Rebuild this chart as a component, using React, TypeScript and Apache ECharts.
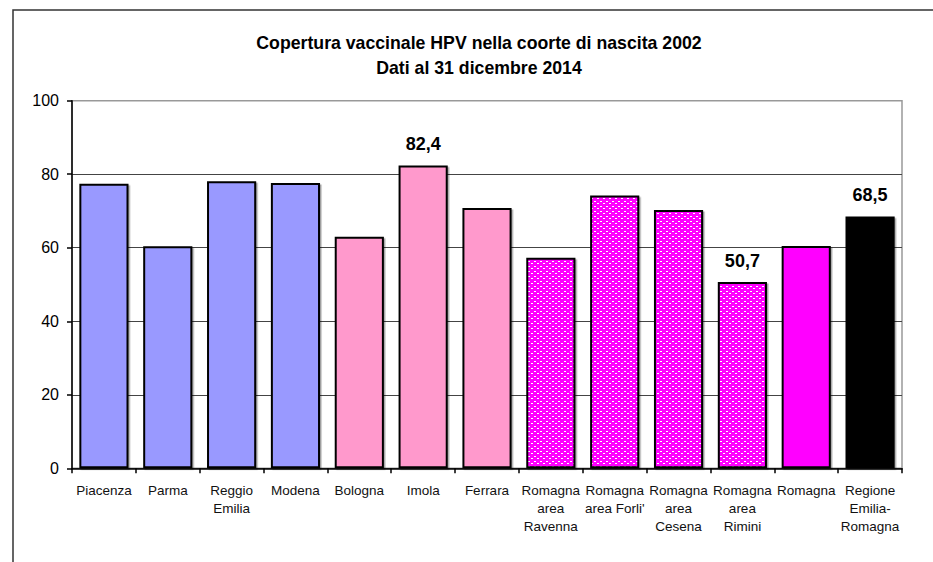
import React, { useEffect, useRef } from "react";
import * as echarts from "echarts";

const categories = [
  "Piacenza",
  "Parma",
  "Reggio\nEmilia",
  "Modena",
  "Bologna",
  "Imola",
  "Ferrara",
  "Romagna\narea\nRavenna",
  "Romagna\narea Forli'",
  "Romagna\narea\nCesena",
  "Romagna\narea\nRimini",
  "Romagna",
  "Regione\nEmilia-\nRomagna",
];
const values = [77.4, 60.4, 78.1, 77.6, 63.0, 82.4, 70.8, 57.3, 74.2, 70.3, 50.7, 60.5, 68.5];
// fill kind per bar: "blue" | "pink" | "dots" | "magenta" | "black"
const kinds = ["blue", "blue", "blue", "blue", "pink", "pink", "pink", "dots", "dots", "dots", "dots", "magenta", "black"];
const labelled = [false, false, false, false, false, true, false, false, false, false, true, false, true];
const yTicks = [0, 20, 40, 60, 80, 100];

function makeDots(): string {
  const c = document.createElement("canvas");
  c.width = 6;
  c.height = 5;
  const ctx = c.getContext("2d")!;
  ctx.fillStyle = "#FF00FF";
  ctx.fillRect(0, 0, 6, 5);
  ctx.fillStyle = "#FFFFFF";
  ctx.fillRect(0, 1, 2, 1);
  ctx.fillRect(3, 3, 2, 1);
  return c.toDataURL();
}

export default function App() {
  const ref = useRef<HTMLDivElement>(null);
  useEffect(() => {
    if (!ref.current) return;
    const chart = echarts.init(ref.current, null, { renderer: "svg" });
    const dots = makeDots();
    const fills: Record<string, any> = {
      blue: "#9999FF",
      pink: "#FF99CC",
      dots: { image: dots, repeat: "repeat" },
      magenta: "#FF00FF",
      black: "#000000",
    };
    const data = values.map((v, i) => ({
      value: v,
      itemStyle: { color: fills[kinds[i]] },
      label: {
        show: labelled[i],
        position: "top",
        distance: 12,
        formatter: () => String(v).replace(".", ","),
        fontFamily: "Liberation Sans, Arial, sans-serif",
        fontWeight: "bold",
        fontSize: 18,
        color: "#000",
      },
    }));
    chart.setOption({
      animation: false,
      backgroundColor: "#fff",
      title: {
        text: "Copertura vaccinale HPV nella coorte di nascita 2002\nDati al 31 dicembre 2014",
        left: 474,
        top: 25,
        textAlign: "center",
        textStyle: {
          fontFamily: "Liberation Sans, Arial, sans-serif",
          fontWeight: "bold",
          fontSize: 17.7,
          lineHeight: 25,
          color: "#000",
        },
      },
      graphic: [
        {
          type: "polyline",
          shape: { points: [[13, 562], [13, 10], [933, 10]] },
          style: { stroke: "#333", lineWidth: 1.5, fill: null },
          silent: true,
        },
      ],
      grid: {
        left: 72,
        right: 31,
        top: 100.7,
        bottom: 93.7,
        show: true,
        borderColor: "#999",
        borderWidth: 1.5,
        backgroundColor: "transparent",
      },
      xAxis: {
        type: "category",
        data: categories,
        axisLine: { lineStyle: { color: "#000", width: 1.5 } },
        axisTick: { show: true, length: 5, alignWithLabel: false, lineStyle: { color: "#000", width: 1.5 } },
        axisLabel: {
          interval: 0,
          margin: 13,
          fontFamily: "Liberation Sans, Arial, sans-serif",
          fontSize: 13.5,
          lineHeight: 18,
          color: "#111",
          verticalAlign: "top",
        },
      },
      yAxis: {
        type: "value",
        min: 0,
        max: 100,
        interval: 20,
        axisLine: { show: true, lineStyle: { color: "#000", width: 1.5 } },
        axisTick: { show: true, length: 5, lineStyle: { color: "#000", width: 1.5 } },
        axisLabel: {
          margin: 13,
          fontFamily: "Liberation Sans, Arial, sans-serif",
          fontSize: 16,
          color: "#000",
          formatter: (v: number) => (yTicks.includes(v) ? String(v) : ""),
        },
        splitLine: {
          show: true,
          lineStyle: { color: ["#444", "#444", "#444", "#444", "#444", "#999"], width: 1.2 },
        },
      },
      series: [
        {
          type: "bar",
          data,
          barWidth: "77%",
          itemStyle: {
            borderColor: "#000",
            borderWidth: 2,
            shadowColor: "rgba(0,0,0,0.35)",
            shadowOffsetX: 1.5,
            shadowOffsetY: 1.5,
            shadowBlur: 0,
          },
        },
      ],
    });
    return () => chart.dispose();
  }, []);
  return (
    <div
      ref={ref}
      style={{ position: "absolute", left: 0, top: 0, width: 933, height: 562 }}
    />
  );
}
